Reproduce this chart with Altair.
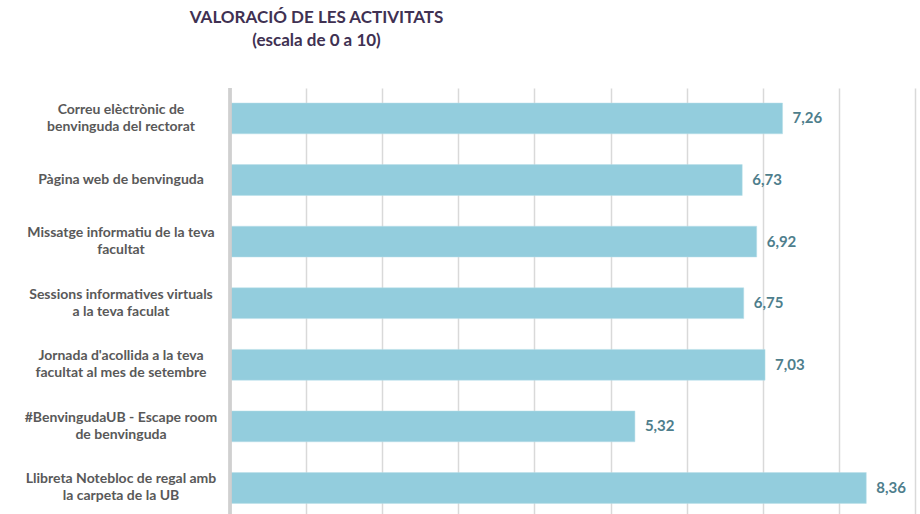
import altair as alt
import pandas as pd

categories = [
    "Correu elèctrònic de\nbenvinguda del rectorat",
    "Pàgina web de benvinguda",
    "Missatge informatiu de la teva\nfacultat",
    "Sessions informatives virtuals\na la teva faculat",
    "Jornada d'acollida a la teva\nfacultat al mes de setembre",
    "#BenvingudaUB - Escape room\nde benvinguda",
    "Llibreta Notebloc de regal amb\nla carpeta de la UB",
]
values = [7.26, 6.73, 6.92, 6.75, 7.03, 5.32, 8.36]

df = pd.DataFrame({"cat": categories, "value": values})

font = "Lato"
label_color = "#595959"
value_color = "#4E7E8C"
bar_color = "#93CDDD"

y_enc = alt.Y("cat:N", sort=categories, axis=None,
              scale=alt.Scale(paddingInner=0.5, paddingOuter=0.208, align=0.586))

base = alt.Chart(df)

bars = base.mark_bar(color=bar_color, stroke="#B8DEE8", strokeWidth=0.5).encode(
    x=alt.X("value:Q", scale=alt.Scale(domain=[0, 9], nice=False),
            axis=alt.Axis(title=None, labels=False, ticks=False, domain=False,
                          grid=True, gridColor="#D9D9D9", gridWidth=1.5,
                          values=list(range(0, 10)))),
    y=y_enc,
)

vals = base.transform_calculate(
    lbl="replace(format(datum.value, '.2f'), '.', ',')"
).mark_text(align="left", baseline="middle", dx=10, font=font,
            fontSize=15, fontWeight="bold", color=value_color).encode(
    x="value:Q", y=y_enc, text="lbl:N"
)

lab_base = base.transform_calculate(
    parts="split(datum.cat, '\\n')",
    n="length(split(datum.cat, '\\n'))",
    l1="split(datum.cat, '\\n')[0]",
    l2="length(split(datum.cat, '\\n')) > 1 ? split(datum.cat, '\\n')[1] : ''",
)
txt_kw = dict(align="center", baseline="middle", font=font, fontSize=14,
              fontWeight="bold", color=label_color)

single = lab_base.transform_filter("datum.n == 1").mark_text(**txt_kw).encode(
    x=alt.value(-109), y=y_enc, text="l1:N")
first = lab_base.transform_filter("datum.n > 1").mark_text(dy=-8.5, **txt_kw).encode(
    x=alt.value(-109), y=y_enc, text="l1:N")
second = lab_base.transform_filter("datum.n > 1").mark_text(dy=8.5, **txt_kw).encode(
    x=alt.value(-109), y=y_enc, text="l2:N")

axis_line = base.mark_rule(color="#D0D0D0", strokeWidth=2.5).encode(
    x=alt.value(0), y=alt.value(0), y2=alt.value(426)
)

chart = alt.layer(bars, vals, single, first, second, axis_line).properties(
    width=685, height=426,
    padding={"left": 230, "top": 88, "right": 5, "bottom": 0},
    autosize=alt.AutoSizeParams(type="none"),
    title=alt.Title(
        ["VALORACIÓ DE LES ACTIVITATS", "(escala de 0 a 10)"],
        anchor="middle", frame="group", align="center", dx=-256, offset=37,
        font=font, fontSize=17, fontWeight="bold", color="#403152",
        lineHeight=23,
    ),
).configure_view(stroke=None)

chart.save("out.html", embed_options={"renderer": "svg", "actions": False})
